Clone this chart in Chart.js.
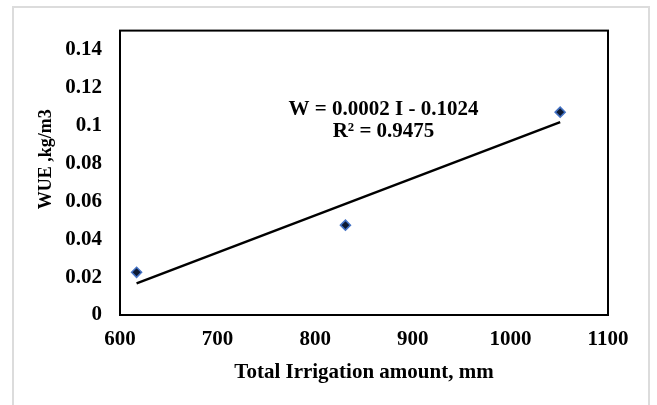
<!DOCTYPE html>
<html>
<head>
<meta charset="utf-8">
<script src="https://cdn.jsdelivr.net/npm/chart.js@4"></script>
<style>
  html, body { margin: 0; padding: 0; background: #fff; overflow: hidden; }
  #wrap { position: relative; width: 657px; height: 405px; }
  #frame { position: absolute; left: 12px; top: 6px; width: 634px; height: 430px; border: 2px solid #dcdcdc; }
  #chart { position: absolute; left: 0; top: 0; }
</style>
</head>
<body>
<div id="wrap">
  <div id="frame"></div>
  <canvas id="chart" width="657" height="405"></canvas>
</div>
<script>
// measured points (Total irrigation, mm -> WUE, kg/m3)
const irrigation = [617, 831, 1051];
const wue = [0.0225, 0.0474, 0.107];

// linear trend line end points
const trendX = [617, 1051];
const trendY = [0.0167, 0.1017];

const xTicks = [600, 700, 800, 900, 1000, 1100];
const yTicks = [0, 0.02, 0.04, 0.06, 0.08, 0.1, 0.12, 0.14];
const yTickLabels = ['0', '0.02', '0.04', '0.06', '0.08', '0.1', '0.12', '0.14'];

const equationLines = ['W = 0.0002 I - 0.1024', 'R² = 0.9475'];
const equationAt = { x: 870, y: 0.1084 };

const serif = 'Liberation Serif, Times New Roman, serif';

const boxPlugin = {
    id: 'plotBox',
    afterDatasetsDraw(chart) {
        const ctx = chart.ctx;
        const a = chart.chartArea;
        ctx.save();
        ctx.strokeStyle = '#000';
        ctx.lineWidth = 2;
        ctx.strokeRect(a.left, a.top, a.right - a.left, a.bottom - a.top);

        // equation label
        const px = chart.scales.x.getPixelForValue(equationAt.x);
        const py = chart.scales.y.getPixelForValue(equationAt.y);
        ctx.fillStyle = '#000';
        ctx.font = 'bold 21px ' + serif;
        ctx.textAlign = 'center';
        ctx.textBaseline = 'middle';
        equationLines.forEach((line, i) => {
            ctx.fillText(line, px, py + i * 22);
        });
        ctx.restore();
    }
};

const ctx = document.querySelector('#chart').getContext('2d');
new Chart(ctx, {
    type: 'scatter',
    data: {
        datasets: [
            {
                label: 'WUE',
                data: irrigation.map((v, i) => ({ x: v, y: wue[i] })),
                pointStyle: 'rectRot',
                pointRadius: 5,
                pointBackgroundColor: '#0d1a33',
                pointBorderColor: '#4472C4',
                pointBorderWidth: 1.5,
                order: 1
            },
            {
                label: 'Linear',
                type: 'line',
                data: trendX.map((v, i) => ({ x: v, y: trendY[i] })),
                borderColor: '#000',
                borderWidth: 2.5,
                pointRadius: 0,
                fill: false,
                order: 2
            }
        ]
    },
    options: {
        responsive: false,
        animation: false,
        layout: { padding: { top: 28, right: 49, left: 0, bottom: 0 } },
        plugins: {
            legend: { display: false },
            tooltip: { enabled: false }
        },
        scales: {
            x: {
                type: 'linear',
                min: 600,
                max: 1100,
                afterBuildTicks: axis => { axis.ticks = xTicks.map(v => ({ value: v })); },
                afterFit: axis => { axis.height = 90; },
                grid: { display: false, drawTicks: false },
                border: { display: false },
                ticks: {
                    padding: 12,
                    color: '#000',
                    maxRotation: 0,
                    font: { family: serif, size: 21, weight: 'bold' },
                    callback: value => String(value)
                },
                title: {
                    display: true,
                    text: 'Total Irrigation amount, mm',
                    color: '#000',
                    padding: { top: 0, bottom: 20 },
                    font: { family: serif, size: 21, weight: 'bold' }
                }
            },
            y: {
                type: 'linear',
                min: 0,
                max: 0.15,
                afterBuildTicks: axis => { axis.ticks = yTicks.map(v => ({ value: v })); },
                afterFit: axis => { axis.width = 120; },
                grid: { display: false, drawTicks: false },
                border: { display: false },
                ticks: {
                    padding: 18,
                    color: '#000',
                    font: { family: serif, size: 21, weight: 'bold' },
                    callback: function(value) {
                        const i = yTicks.indexOf(value);
                        return i >= 0 ? yTickLabels[i] : '';
                    }
                },
                title: {
                    display: true,
                    text: '      WUE ,kg/m3',
                    color: '#000',
                    padding: { top: 36, bottom: 0 },
                    font: { family: serif, size: 18, weight: 'bold' }
                }
            }
        }
    },
    plugins: [boxPlugin]
});
</script>
</body>
</html>
